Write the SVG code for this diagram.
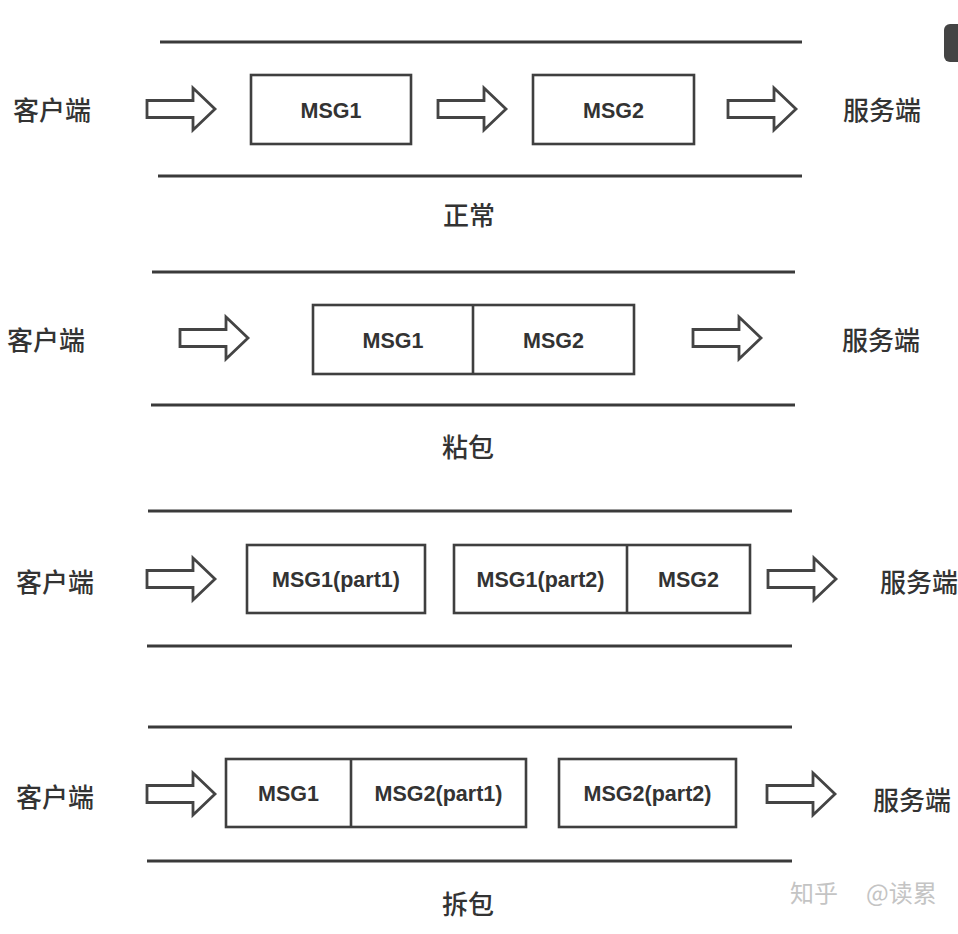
<svg xmlns="http://www.w3.org/2000/svg" xmlns:xlink="http://www.w3.org/1999/xlink" width="958" height="934" viewBox="0 0 958 934">
<style>
.bg{fill:#ffffff}
.rule{stroke:#3a3a3a;stroke-width:3;fill:none}
.box{fill:#ffffff;stroke:#3f3f3f;stroke-width:2.6}
.div{stroke:#3f3f3f;stroke-width:2.6}
.msg{font-family:"Liberation Sans",Arial,sans-serif;font-weight:bold;font-size:21.5px;fill:#333333;text-anchor:middle}
.cjk{font-family:"Noto Sans CJK SC","Noto Sans",sans-serif;font-size:26px;font-weight:500;fill:#333333;dominant-baseline:central}
.cap{font-family:"Noto Sans CJK SC","Noto Sans",sans-serif;font-size:26px;font-weight:500;fill:#333333;text-anchor:middle;dominant-baseline:central}
.wm{font-family:"Noto Sans CJK SC","Noto Sans",sans-serif;font-size:24px;fill:#c4c4c4;dominant-baseline:central}
.arr{fill:#ffffff;stroke:#444444;stroke-width:2.8;stroke-linejoin:miter}
</style>
<defs>
<path id="arrow" class="arr" d="M0,-8.5 H46 V-21 L68,0 L46,21 V8.5 H0 Z"/>
</defs>
<rect class="bg" x="0" y="0" width="958" height="934"/>

<g id="rules">
<line class="rule" x1="160" y1="42" x2="802" y2="42"/>
<line class="rule" x1="158" y1="176" x2="802" y2="176"/>
<line class="rule" x1="152" y1="272" x2="795" y2="272"/>
<line class="rule" x1="151" y1="405" x2="795" y2="405"/>
<line class="rule" x1="148" y1="511" x2="792" y2="511"/>
<line class="rule" x1="147" y1="646" x2="792" y2="646"/>
<line class="rule" x1="148" y1="727" x2="792" y2="727"/>
<line class="rule" x1="147" y1="861" x2="792" y2="861"/>
</g>

<g id="connectors">
<use xlink:href="#arrow" href="#arrow" x="147" y="109"/>
<use xlink:href="#arrow" href="#arrow" x="438" y="109"/>
<use xlink:href="#arrow" href="#arrow" x="728" y="109"/>
<use xlink:href="#arrow" href="#arrow" x="180" y="338"/>
<use xlink:href="#arrow" href="#arrow" x="693" y="338"/>
<use xlink:href="#arrow" href="#arrow" x="147" y="579"/>
<use xlink:href="#arrow" href="#arrow" x="768" y="579"/>
<use xlink:href="#arrow" href="#arrow" x="147" y="794"/>
<use xlink:href="#arrow" href="#arrow" x="767" y="794"/>
</g>

<!-- Section 1: 正常 -->
<g id="client1"><text class="cjk" x="13" y="108">客户端</text></g>
<g id="s1-msg1"><rect class="box" x="251" y="75" width="160" height="69"/><text class="msg" x="331" y="117.5">MSG1</text></g>
<g id="s1-msg2"><rect class="box" x="533" y="75" width="161" height="69"/><text class="msg" x="613.5" y="117.5">MSG2</text></g>
<g id="server1"><text class="cjk" x="843" y="108">服务端</text></g>
<g id="label1"><text class="cap" x="469" y="213">正常</text></g>

<!-- Section 2: 粘包 -->
<g id="client2"><text class="cjk" x="7" y="338">客户端</text></g>
<g id="s2-packet">
<rect class="box" x="313" y="305" width="321" height="69"/>
<line class="div" x1="473" y1="305" x2="473" y2="374"/>
<text class="msg" x="393" y="347.5">MSG1</text>
<text class="msg" x="553.5" y="347.5">MSG2</text>
</g>
<g id="server2"><text class="cjk" x="842" y="338">服务端</text></g>
<g id="label2"><text class="cap" x="468" y="445">粘包</text></g>

<!-- Section 3 -->
<g id="client3"><text class="cjk" x="16" y="580">客户端</text></g>
<g id="s3-part1"><rect class="box" x="247" y="545" width="178" height="68"/><text class="msg" x="336" y="587">MSG1(part1)</text></g>
<g id="s3-packet">
<rect class="box" x="454" y="545" width="296" height="68"/>
<line class="div" x1="627" y1="545" x2="627" y2="613"/>
<text class="msg" x="540.5" y="587">MSG1(part2)</text>
<text class="msg" x="688.5" y="587">MSG2</text>
</g>
<g id="server3"><text class="cjk" x="880" y="580">服务端</text></g>

<!-- Section 4: 拆包 -->
<g id="client4"><text class="cjk" x="16" y="795">客户端</text></g>
<g id="s4-packet">
<rect class="box" x="226" y="759" width="300" height="68"/>
<line class="div" x1="351" y1="759" x2="351" y2="827"/>
<text class="msg" x="288.5" y="801">MSG1</text>
<text class="msg" x="438.5" y="801">MSG2(part1)</text>
</g>
<g id="s4-part2"><rect class="box" x="559" y="759" width="177" height="68"/><text class="msg" x="647.5" y="801">MSG2(part2)</text></g>
<g id="server4"><text class="cjk" x="873" y="798">服务端</text></g>
<g id="label4"><text class="cap" x="468" y="902">拆包</text></g>

<!-- corner badge and watermark -->
<rect x="944" y="24" width="30" height="38" rx="6" fill="#444444"/>
<text class="wm" x="790" y="891">知乎</text>
<text class="wm" x="866" y="891">@读累</text>
</svg>
